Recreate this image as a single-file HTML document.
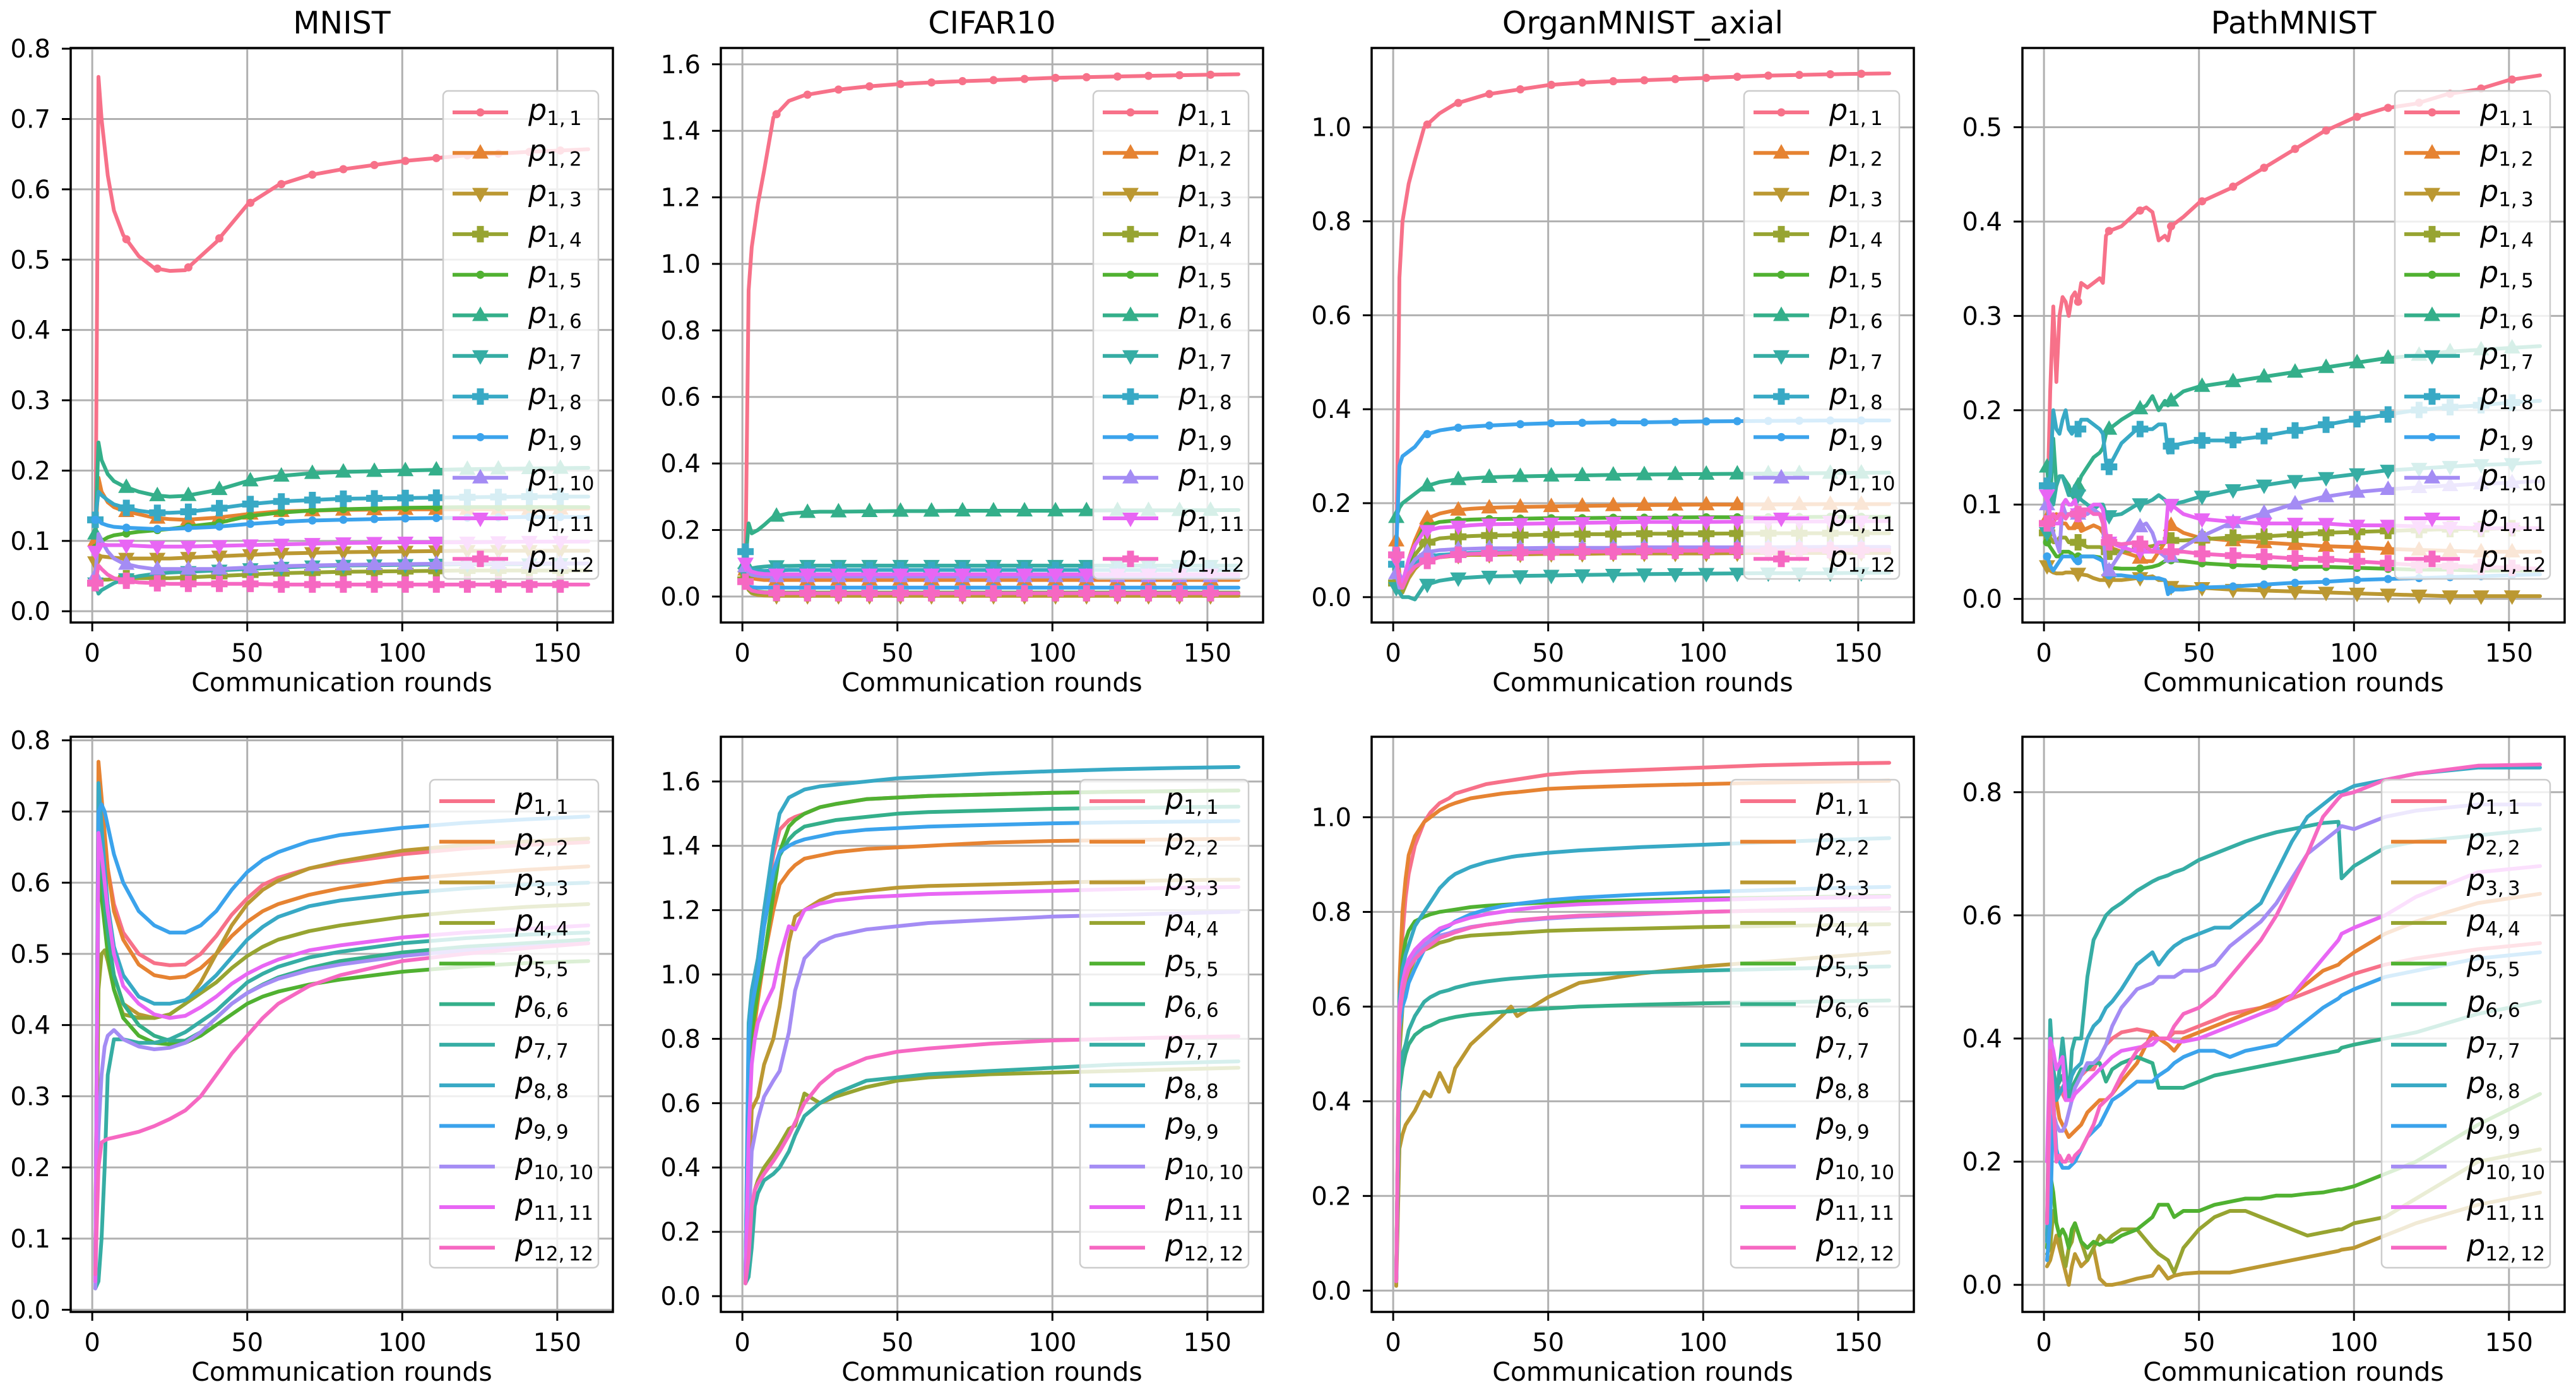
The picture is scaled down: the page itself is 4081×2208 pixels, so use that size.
<!DOCTYPE html>
<html><head><meta charset="utf-8">
<style>
html,body{margin:0;padding:0;background:#fff;}
svg{display:block;font-family:"DejaVu Sans","Liberation Sans",sans-serif;}
</style></head>
<body>
<svg id="fig" xmlns="http://www.w3.org/2000/svg" width="4081" height="2208" viewBox="0 0 4081 2208">
<rect x="0" y="0" width="4081" height="2208" fill="#ffffff"/>
</svg>
<script>
// ---- data ----
const colors = ['#f77189','#e68332','#bb9832','#97a431','#50b131','#34af8a','#36ada4','#38a9c5','#3ba3ec','#a48cf4','#e866f4','#f668c2'];
const xTicks = [0,50,100,150];
const titles = ['MNIST','CIFAR10','OrganMNIST_axial','PathMNIST'];

const X1 = [1,2,3,5,7,10,15,20,25,30,40,50,60,70,80,100,120,140,160];
const mnistTop = [
[0.05,0.76,0.70,0.62,0.57,0.535,0.505,0.488,0.484,0.485,0.525,0.578,0.606,0.62,0.628,0.64,0.648,0.653,0.657],
[0.10,0.19,0.17,0.155,0.148,0.143,0.138,0.133,0.131,0.13,0.133,0.138,0.142,0.143,0.144,0.145,0.145,0.145,0.146],
[0.07,0.08,0.078,0.077,0.076,0.075,0.075,0.075,0.075,0.076,0.078,0.08,0.082,0.083,0.084,0.085,0.086,0.086,0.086],
[0.04,0.045,0.045,0.045,0.046,0.047,0.047,0.047,0.047,0.048,0.05,0.052,0.054,0.055,0.056,0.057,0.058,0.058,0.058],
[0.09,0.1,0.1,0.105,0.108,0.11,0.113,0.115,0.117,0.12,0.125,0.135,0.14,0.143,0.145,0.147,0.148,0.148,0.148],
[0.11,0.24,0.215,0.195,0.185,0.178,0.17,0.165,0.163,0.164,0.172,0.185,0.192,0.196,0.198,0.2,0.202,0.203,0.204],
[0.04,0.025,0.03,0.035,0.04,0.045,0.05,0.053,0.055,0.056,0.058,0.06,0.062,0.064,0.065,0.066,0.067,0.067,0.068],
[0.13,0.17,0.165,0.158,0.152,0.148,0.143,0.14,0.14,0.141,0.146,0.152,0.156,0.158,0.16,0.161,0.162,0.163,0.163],
[0.13,0.13,0.125,0.122,0.12,0.119,0.118,0.117,0.117,0.118,0.12,0.124,0.127,0.129,0.13,0.132,0.133,0.134,0.134],
[0.05,0.11,0.1,0.085,0.075,0.068,0.063,0.06,0.06,0.06,0.06,0.062,0.064,0.065,0.066,0.067,0.068,0.068,0.068],
[0.085,0.095,0.095,0.094,0.094,0.094,0.093,0.092,0.092,0.092,0.093,0.094,0.095,0.096,0.097,0.098,0.098,0.099,0.099],
[0.04,0.065,0.06,0.052,0.047,0.044,0.041,0.04,0.039,0.039,0.039,0.039,0.038,0.038,0.038,0.038,0.038,0.038,0.038]
];
const cifarTop = [
[0.1,0.92,1.05,1.18,1.28,1.44,1.49,1.507,1.515,1.523,1.533,1.54,1.545,1.549,1.552,1.559,1.563,1.567,1.57],
[0.08,0.06,0.055,0.052,0.05,0.05,0.05,0.05,0.05,0.05,0.05,0.05,0.05,0.05,0.05,0.05,0.05,0.05,0.05],
[0.06,0.02,0.01,0.005,0.003,0.002,0.002,0.002,0.002,0.002,0.002,0.002,0.002,0.002,0.002,0.002,0.002,0.002,0.002],
[0.05,0.02,0.012,0.01,0.01,0.01,0.01,0.01,0.01,0.01,0.01,0.01,0.01,0.01,0.01,0.01,0.01,0.01,0.01],
[0.06,0.03,0.02,0.015,0.013,0.012,0.012,0.012,0.012,0.012,0.012,0.012,0.012,0.012,0.012,0.012,0.012,0.012,0.012],
[0.1,0.22,0.19,0.2,0.215,0.24,0.25,0.253,0.255,0.255,0.256,0.257,0.257,0.258,0.258,0.258,0.259,0.259,0.26],
[0.07,0.08,0.085,0.088,0.09,0.092,0.092,0.093,0.093,0.093,0.093,0.093,0.093,0.093,0.093,0.093,0.093,0.093,0.093],
[0.135,0.09,0.08,0.078,0.077,0.078,0.08,0.08,0.08,0.08,0.08,0.08,0.08,0.08,0.08,0.08,0.08,0.08,0.08],
[0.05,0.03,0.028,0.027,0.027,0.027,0.027,0.027,0.027,0.027,0.027,0.027,0.027,0.027,0.027,0.027,0.027,0.027,0.027],
[0.09,0.07,0.065,0.062,0.06,0.06,0.06,0.06,0.06,0.06,0.06,0.06,0.06,0.06,0.06,0.06,0.06,0.06,0.06],
[0.1,0.08,0.075,0.07,0.068,0.067,0.067,0.067,0.067,0.067,0.067,0.067,0.067,0.067,0.067,0.067,0.067,0.067,0.067],
[0.045,0.025,0.018,0.014,0.012,0.011,0.01,0.01,0.01,0.01,0.01,0.01,0.01,0.01,0.01,0.01,0.01,0.01,0.01]
];
const organTop = [
[0.05,0.68,0.8,0.88,0.93,1.0,1.03,1.05,1.06,1.07,1.08,1.09,1.095,1.098,1.1,1.105,1.11,1.113,1.115],
[0.12,0.05,0.03,0.08,0.12,0.165,0.178,0.185,0.188,0.19,0.192,0.193,0.194,0.195,0.196,0.197,0.197,0.198,0.198],
[0.08,0.02,0.01,0.04,0.06,0.08,0.085,0.088,0.09,0.09,0.091,0.092,0.092,0.093,0.093,0.093,0.094,0.094,0.094],
[0.03,0.02,0.01,0.05,0.09,0.115,0.125,0.128,0.13,0.131,0.132,0.133,0.134,0.134,0.135,0.135,0.136,0.136,0.136],
[0.06,0.03,0.02,0.07,0.11,0.15,0.16,0.163,0.165,0.166,0.167,0.168,0.168,0.169,0.169,0.17,0.17,0.171,0.171],
[0.17,0.19,0.2,0.21,0.22,0.235,0.245,0.25,0.253,0.255,0.257,0.258,0.259,0.26,0.261,0.262,0.263,0.264,0.265],
[0.02,0.01,0.0,0.0,-0.005,0.025,0.035,0.04,0.042,0.044,0.045,0.046,0.047,0.048,0.049,0.05,0.051,0.051,0.052],
[0.07,0.03,0.02,0.05,0.07,0.085,0.09,0.092,0.094,0.095,0.096,0.097,0.098,0.099,0.1,0.1,0.101,0.101,0.102],
[0.1,0.28,0.3,0.31,0.32,0.345,0.355,0.36,0.363,0.365,0.368,0.37,0.371,0.372,0.372,0.374,0.375,0.376,0.376],
[0.05,0.02,0.02,0.06,0.08,0.095,0.1,0.102,0.103,0.104,0.104,0.105,0.105,0.105,0.106,0.106,0.106,0.107,0.107],
[0.08,0.04,0.03,0.08,0.11,0.14,0.148,0.15,0.153,0.155,0.156,0.157,0.158,0.159,0.16,0.16,0.161,0.161,0.162],
[0.09,0.03,0.02,0.05,0.065,0.075,0.085,0.09,0.092,0.093,0.095,0.096,0.097,0.097,0.098,0.099,0.099,0.1,0.1]
];
const XP = [1,2,3,4,5,6,7,8,9,10,11,12,14,16,18,19,20,21,25,30,33,35,37,39,40,41,45,50,60,70,80,90,100,110,120,130,140,150,160];
const pathTop = [
[0.08,0.22,0.31,0.23,0.3,0.32,0.315,0.3,0.32,0.325,0.315,0.335,0.33,0.335,0.34,0.335,0.385,0.39,0.395,0.41,0.415,0.41,0.38,0.385,0.38,0.395,0.405,0.42,0.435,0.455,0.475,0.495,0.51,0.52,0.525,0.535,0.54,0.55,0.555],
[0.085,0.09,0.08,0.09,0.085,0.08,0.08,0.075,0.075,0.075,0.08,0.072,0.075,0.078,0.075,0.07,0.06,0.055,0.05,0.045,0.04,0.04,0.05,0.06,0.08,0.078,0.07,0.065,0.062,0.06,0.058,0.056,0.055,0.053,0.052,0.051,0.05,0.05,0.05],
[0.035,0.03,0.028,0.027,0.027,0.027,0.028,0.028,0.028,0.027,0.027,0.026,0.025,0.022,0.02,0.02,0.02,0.02,0.02,0.022,0.023,0.024,0.02,0.02,0.015,0.013,0.013,0.012,0.01,0.009,0.008,0.007,0.006,0.005,0.004,0.003,0.003,0.003,0.003],
[0.07,0.065,0.06,0.06,0.065,0.065,0.065,0.06,0.06,0.06,0.06,0.058,0.055,0.055,0.055,0.054,0.05,0.05,0.05,0.052,0.055,0.056,0.058,0.06,0.062,0.062,0.062,0.063,0.065,0.066,0.068,0.07,0.071,0.072,0.073,0.074,0.074,0.075,0.075],
[0.06,0.055,0.05,0.045,0.045,0.05,0.05,0.05,0.048,0.045,0.045,0.045,0.045,0.045,0.044,0.04,0.035,0.033,0.032,0.032,0.033,0.034,0.036,0.04,0.042,0.041,0.04,0.038,0.036,0.035,0.034,0.034,0.033,0.032,0.031,0.031,0.03,0.03,0.03],
[0.14,0.1,0.17,0.12,0.13,0.13,0.125,0.12,0.11,0.105,0.12,0.13,0.14,0.15,0.155,0.16,0.175,0.18,0.19,0.2,0.205,0.215,0.2,0.21,0.205,0.21,0.22,0.225,0.23,0.235,0.24,0.245,0.25,0.255,0.258,0.262,0.264,0.266,0.268],
[0.07,0.12,0.1,0.12,0.13,0.13,0.12,0.11,0.11,0.12,0.11,0.105,0.1,0.095,0.1,0.1,0.09,0.088,0.09,0.1,0.102,0.105,0.11,0.105,0.1,0.1,0.103,0.108,0.115,0.12,0.125,0.128,0.132,0.136,0.138,0.14,0.142,0.143,0.145],
[0.12,0.13,0.2,0.18,0.175,0.19,0.2,0.18,0.175,0.18,0.18,0.19,0.19,0.185,0.18,0.175,0.145,0.14,0.165,0.18,0.18,0.18,0.185,0.185,0.155,0.162,0.165,0.168,0.168,0.172,0.178,0.184,0.19,0.195,0.2,0.203,0.205,0.208,0.21],
[0.045,0.035,0.03,0.035,0.04,0.045,0.045,0.045,0.045,0.04,0.04,0.045,0.045,0.045,0.042,0.04,0.025,0.025,0.025,0.023,0.022,0.022,0.022,0.02,0.005,0.01,0.01,0.012,0.013,0.015,0.017,0.018,0.02,0.021,0.022,0.023,0.024,0.025,0.026],
[0.1,0.08,0.07,0.06,0.05,0.1,0.09,0.09,0.09,0.095,0.09,0.09,0.09,0.095,0.09,0.08,0.03,0.03,0.05,0.075,0.08,0.07,0.05,0.045,0.04,0.045,0.055,0.065,0.08,0.09,0.1,0.108,0.113,0.116,0.118,0.12,0.122,0.123,0.125],
[0.11,0.09,0.08,0.08,0.08,0.1,0.105,0.1,0.1,0.105,0.09,0.09,0.095,0.1,0.1,0.095,0.07,0.06,0.055,0.05,0.05,0.05,0.06,0.06,0.1,0.1,0.09,0.085,0.082,0.08,0.08,0.08,0.078,0.078,0.077,0.076,0.075,0.075,0.075],
[0.08,0.085,0.09,0.085,0.09,0.09,0.085,0.09,0.09,0.088,0.09,0.095,0.095,0.09,0.09,0.08,0.06,0.06,0.058,0.06,0.055,0.05,0.05,0.05,0.05,0.05,0.05,0.048,0.046,0.045,0.043,0.042,0.04,0.038,0.036,0.035,0.034,0.033,0.032]
];
const X5 = [1,2,3,4,5,7,10,15,20,25,30,35,40,45,50,55,60,70,80,100,120,140,160];
const mnistDiag = [
[0.05,0.72,0.70,0.66,0.62,0.57,0.53,0.5,0.487,0.484,0.485,0.5,0.525,0.555,0.578,0.597,0.607,0.62,0.628,0.64,0.648,0.653,0.657],
[0.04,0.77,0.72,0.67,0.62,0.56,0.52,0.485,0.47,0.466,0.468,0.48,0.5,0.525,0.545,0.56,0.57,0.583,0.592,0.605,0.612,0.618,0.623],
[0.05,0.7,0.62,0.56,0.52,0.47,0.43,0.415,0.41,0.415,0.43,0.46,0.5,0.54,0.57,0.59,0.603,0.62,0.63,0.645,0.653,0.658,0.662],
[0.04,0.45,0.5,0.505,0.49,0.45,0.415,0.41,0.41,0.415,0.43,0.445,0.46,0.48,0.497,0.51,0.52,0.532,0.54,0.552,0.56,0.566,0.57],
[0.04,0.62,0.58,0.54,0.5,0.45,0.41,0.385,0.375,0.373,0.375,0.385,0.4,0.415,0.43,0.44,0.447,0.457,0.464,0.475,0.482,0.487,0.49],
[0.04,0.7,0.62,0.57,0.53,0.47,0.43,0.4,0.385,0.378,0.378,0.39,0.41,0.43,0.445,0.457,0.467,0.48,0.49,0.502,0.51,0.515,0.52],
[0.03,0.04,0.1,0.2,0.33,0.38,0.38,0.375,0.375,0.38,0.39,0.405,0.42,0.44,0.46,0.472,0.482,0.495,0.503,0.515,0.522,0.527,0.53],
[0.04,0.74,0.68,0.62,0.57,0.51,0.47,0.44,0.43,0.43,0.435,0.45,0.47,0.495,0.52,0.538,0.552,0.567,0.575,0.585,0.592,0.597,0.6],
[0.05,0.7,0.71,0.7,0.68,0.64,0.6,0.56,0.54,0.53,0.53,0.54,0.56,0.59,0.615,0.632,0.643,0.658,0.667,0.677,0.684,0.689,0.693],
[0.03,0.25,0.33,0.37,0.385,0.393,0.38,0.37,0.366,0.368,0.375,0.39,0.41,0.43,0.445,0.456,0.465,0.477,0.485,0.497,0.505,0.51,0.515],
[0.04,0.67,0.64,0.6,0.56,0.5,0.455,0.43,0.415,0.41,0.413,0.425,0.44,0.458,0.472,0.483,0.492,0.505,0.512,0.523,0.53,0.535,0.54],
[0.05,0.2,0.235,0.238,0.24,0.242,0.245,0.25,0.258,0.268,0.28,0.3,0.33,0.36,0.385,0.41,0.43,0.455,0.47,0.49,0.5,0.508,0.515]
];
const X6 = [1,2,3,4,5,7,10,12,15,17,20,25,30,40,50,60,80,100,120,140,160];
const cifarDiag = [
[0.05,0.7,0.85,1.0,1.05,1.2,1.37,1.45,1.48,1.49,1.5,1.52,1.53,1.545,1.55,1.555,1.56,1.565,1.568,1.57,1.572],
[0.04,0.5,0.75,0.85,0.92,1.05,1.2,1.28,1.32,1.34,1.36,1.37,1.38,1.39,1.395,1.4,1.41,1.415,1.418,1.42,1.422],
[0.04,0.3,0.58,0.6,0.62,0.72,0.8,0.9,1.1,1.18,1.2,1.23,1.25,1.26,1.27,1.275,1.28,1.285,1.29,1.293,1.295],
[0.04,0.12,0.25,0.33,0.36,0.4,0.44,0.47,0.52,0.53,0.63,0.6,0.62,0.65,0.67,0.68,0.69,0.695,0.7,0.705,0.71],
[0.05,0.7,0.82,0.88,0.95,1.05,1.25,1.38,1.46,1.48,1.5,1.52,1.53,1.545,1.55,1.555,1.56,1.565,1.568,1.57,1.572],
[0.05,0.75,0.88,0.95,1.0,1.15,1.3,1.37,1.42,1.44,1.46,1.47,1.48,1.49,1.5,1.505,1.51,1.515,1.518,1.52,1.522],
[0.04,0.06,0.15,0.28,0.32,0.36,0.38,0.4,0.45,0.5,0.56,0.6,0.63,0.67,0.68,0.69,0.7,0.71,0.72,0.725,0.73],
[0.05,0.85,0.95,1.0,1.05,1.2,1.4,1.5,1.55,1.56,1.575,1.585,1.59,1.6,1.61,1.615,1.625,1.632,1.638,1.642,1.645],
[0.05,0.8,0.9,0.95,1.0,1.15,1.32,1.38,1.4,1.41,1.42,1.43,1.44,1.45,1.455,1.46,1.465,1.47,1.473,1.475,1.477],
[0.04,0.2,0.45,0.5,0.55,0.62,0.67,0.7,0.82,0.95,1.05,1.1,1.12,1.14,1.15,1.16,1.17,1.18,1.185,1.19,1.195],
[0.04,0.5,0.72,0.8,0.85,0.9,0.96,1.05,1.15,1.14,1.2,1.22,1.23,1.24,1.245,1.25,1.255,1.26,1.265,1.27,1.272],
[0.04,0.12,0.28,0.33,0.35,0.38,0.42,0.45,0.5,0.54,0.6,0.66,0.7,0.74,0.76,0.77,0.785,0.795,0.8,0.805,0.808]
];
const X7 = [1,2,3,4,5,7,10,12,15,18,20,25,30,35,38,40,50,60,80,100,120,140,160];
const organDiag = [
[0.02,0.6,0.75,0.83,0.88,0.94,0.99,1.01,1.03,1.04,1.05,1.06,1.07,1.075,1.078,1.08,1.09,1.095,1.1,1.105,1.11,1.113,1.115],
[0.02,0.65,0.8,0.87,0.92,0.96,0.99,1.0,1.015,1.025,1.03,1.04,1.045,1.05,1.052,1.053,1.06,1.063,1.067,1.07,1.073,1.075,1.077],
[0.01,0.3,0.33,0.35,0.36,0.38,0.42,0.41,0.46,0.42,0.47,0.52,0.55,0.58,0.6,0.58,0.62,0.65,0.67,0.685,0.695,0.705,0.715],
[0.02,0.5,0.6,0.65,0.67,0.7,0.72,0.725,0.735,0.74,0.745,0.75,0.752,0.754,0.755,0.756,0.76,0.762,0.765,0.768,0.77,0.772,0.774],
[0.02,0.6,0.7,0.74,0.76,0.78,0.79,0.795,0.8,0.803,0.805,0.81,0.813,0.815,0.816,0.817,0.82,0.822,0.825,0.828,0.83,0.832,0.834],
[0.02,0.42,0.47,0.5,0.52,0.54,0.555,0.56,0.57,0.575,0.578,0.583,0.586,0.589,0.59,0.592,0.596,0.6,0.604,0.607,0.609,0.611,0.613],
[0.02,0.45,0.5,0.52,0.55,0.58,0.61,0.62,0.63,0.635,0.64,0.648,0.653,0.657,0.659,0.66,0.665,0.668,0.672,0.676,0.679,0.682,0.685],
[0.02,0.62,0.68,0.71,0.73,0.77,0.8,0.82,0.85,0.87,0.88,0.895,0.905,0.912,0.916,0.918,0.925,0.93,0.937,0.942,0.947,0.952,0.956],
[0.02,0.55,0.6,0.62,0.65,0.68,0.72,0.74,0.76,0.77,0.78,0.795,0.805,0.812,0.815,0.817,0.825,0.83,0.837,0.842,0.846,0.85,0.853],
[0.02,0.6,0.65,0.67,0.69,0.71,0.73,0.74,0.75,0.755,0.76,0.768,0.773,0.777,0.779,0.781,0.786,0.79,0.795,0.8,0.803,0.806,0.808],
[0.02,0.6,0.65,0.68,0.7,0.72,0.74,0.75,0.765,0.772,0.778,0.788,0.795,0.8,0.803,0.805,0.812,0.816,0.821,0.825,0.828,0.83,0.832],
[0.02,0.58,0.63,0.66,0.68,0.7,0.72,0.73,0.745,0.752,0.757,0.767,0.773,0.777,0.78,0.782,0.788,0.792,0.796,0.8,0.803,0.805,0.807]
];
const X8 = [1,2,3,4,5,6,7,8,9,10,12,14,16,18,20,22,25,30,35,37,40,42,45,50,55,60,65,70,75,80,85,90,95,96,100,110,120,140,160];
const pathDiag = [
[0.1,0.3,0.35,0.3,0.32,0.31,0.3,0.31,0.32,0.33,0.34,0.35,0.35,0.37,0.39,0.4,0.41,0.415,0.41,0.4,0.4,0.41,0.41,0.42,0.43,0.44,0.445,0.45,0.455,0.465,0.475,0.485,0.495,0.497,0.505,0.52,0.53,0.545,0.555],
[0.07,0.3,0.32,0.3,0.27,0.26,0.25,0.24,0.245,0.25,0.26,0.28,0.29,0.3,0.3,0.31,0.33,0.36,0.41,0.4,0.39,0.38,0.4,0.41,0.42,0.43,0.44,0.45,0.46,0.47,0.49,0.51,0.52,0.525,0.54,0.57,0.59,0.62,0.635],
[0.03,0.04,0.06,0.08,0.06,0.04,0.02,0.0,0.03,0.05,0.03,0.04,0.06,0.01,0.0,0.0,0.003,0.01,0.015,0.03,0.01,0.015,0.018,0.02,0.02,0.02,0.025,0.03,0.035,0.04,0.045,0.05,0.055,0.057,0.06,0.08,0.1,0.13,0.15],
[0.05,0.06,0.12,0.1,0.08,0.05,0.03,0.06,0.07,0.1,0.07,0.04,0.06,0.08,0.07,0.08,0.09,0.09,0.06,0.05,0.04,0.02,0.06,0.09,0.11,0.12,0.12,0.11,0.1,0.09,0.08,0.085,0.09,0.09,0.1,0.11,0.14,0.2,0.22],
[0.06,0.18,0.15,0.1,0.08,0.09,0.08,0.06,0.09,0.1,0.07,0.06,0.07,0.065,0.07,0.07,0.08,0.09,0.11,0.13,0.13,0.11,0.12,0.12,0.13,0.135,0.14,0.14,0.145,0.145,0.148,0.15,0.155,0.155,0.16,0.18,0.2,0.26,0.31],
[0.08,0.3,0.35,0.32,0.33,0.34,0.32,0.3,0.32,0.33,0.35,0.35,0.36,0.36,0.33,0.35,0.36,0.37,0.36,0.32,0.32,0.32,0.32,0.33,0.34,0.345,0.35,0.355,0.36,0.365,0.37,0.375,0.38,0.385,0.39,0.4,0.41,0.44,0.46],
[0.1,0.43,0.35,0.3,0.35,0.4,0.35,0.3,0.38,0.4,0.4,0.5,0.56,0.58,0.6,0.61,0.62,0.64,0.655,0.66,0.665,0.67,0.675,0.69,0.7,0.71,0.72,0.728,0.735,0.74,0.745,0.75,0.752,0.66,0.68,0.71,0.72,0.73,0.74],
[0.07,0.38,0.33,0.3,0.31,0.32,0.33,0.32,0.34,0.35,0.36,0.4,0.42,0.43,0.45,0.46,0.48,0.52,0.54,0.52,0.54,0.55,0.56,0.57,0.58,0.58,0.6,0.62,0.67,0.72,0.76,0.78,0.8,0.8,0.81,0.82,0.83,0.84,0.84],
[0.04,0.1,0.3,0.22,0.2,0.19,0.19,0.19,0.195,0.2,0.22,0.24,0.25,0.26,0.28,0.3,0.31,0.33,0.33,0.34,0.35,0.36,0.37,0.38,0.38,0.37,0.38,0.385,0.39,0.41,0.43,0.45,0.465,0.47,0.48,0.5,0.51,0.53,0.54],
[0.1,0.3,0.28,0.26,0.25,0.25,0.26,0.28,0.3,0.32,0.34,0.36,0.36,0.37,0.39,0.42,0.45,0.48,0.49,0.5,0.5,0.5,0.51,0.51,0.52,0.55,0.57,0.59,0.62,0.66,0.7,0.72,0.74,0.745,0.74,0.76,0.77,0.78,0.78],
[0.2,0.4,0.38,0.35,0.36,0.37,0.3,0.3,0.3,0.31,0.32,0.33,0.34,0.35,0.36,0.37,0.38,0.385,0.39,0.4,0.4,0.395,0.395,0.4,0.41,0.42,0.43,0.44,0.45,0.47,0.5,0.53,0.56,0.57,0.58,0.6,0.63,0.67,0.68],
[0.1,0.38,0.3,0.2,0.21,0.2,0.2,0.21,0.2,0.21,0.22,0.24,0.26,0.29,0.3,0.31,0.34,0.38,0.4,0.4,0.4,0.42,0.44,0.45,0.47,0.5,0.53,0.56,0.6,0.65,0.7,0.76,0.79,0.795,0.8,0.82,0.83,0.843,0.845]
];
const yTicksList = [
[0,0.1,0.2,0.3,0.4,0.5,0.6,0.7,0.8],[0,0.2,0.4,0.6,0.8,1.0,1.2,1.4,1.6],[0,0.2,0.4,0.6,0.8,1.0],[0,0.1,0.2,0.3,0.4,0.5],
[0,0.1,0.2,0.3,0.4,0.5,0.6,0.7,0.8],[0,0.2,0.4,0.6,0.8,1.0,1.2,1.4,1.6],[0,0.2,0.4,0.6,0.8,1.0],[0,0.2,0.4,0.6,0.8]
];
const yRanges = [[-0.016,0.801],[-0.078,1.649],[-0.054,1.169],[-0.025,0.584],[-0.003,0.805],[-0.049,1.739],[-0.045,1.170],[-0.044,0.890]];

// ---- rendering ----
const NS = 'http://www.w3.org/2000/svg';
const svg = document.getElementById('fig');
const LW = 6;
function mk(tag, attrs, parent){ const e=document.createElementNS(NS,tag); for(const k in attrs) e.setAttribute(k,attrs[k]); (parent||svg).appendChild(e); return e; }
function interp(xs, ys, x){ for(let i=0;i<xs.length-1;i++){ if(x>=xs[i]&&x<=xs[i+1]){ const t=(x-xs[i])/(xs[i+1]-xs[i]); return ys[i]+t*(ys[i+1]-ys[i]); } } return ys[ys.length-1]; }
function marker(g, type, cx, cy, col){
  let m;
  if(type===0){ m=mk('circle',{cx:cx,cy:cy,r:6.5,fill:col},g); }
  else if(type===1){ m=mk('polygon',{points:`${cx},${cy-14} ${cx-13},${cy+9} ${cx+13},${cy+9}`,fill:col},g); }
  else if(type===2){ m=mk('polygon',{points:`${cx},${cy+14} ${cx-13},${cy-9} ${cx+13},${cy-9}`,fill:col},g); }
  else { const a=5.5,b=13; m=mk('polygon',{points:`${cx-a},${cy-b} ${cx+a},${cy-b} ${cx+a},${cy-a} ${cx+b},${cy-a} ${cx+b},${cy+a} ${cx+a},${cy+a} ${cx+a},${cy+b} ${cx-a},${cy+b} ${cx-a},${cy+a} ${cx-b},${cy+a} ${cx-b},${cy-a} ${cx-a},${cy-a}`,fill:col},g); }
  
  
}
const panels = [
 {xs:X1,data:mnistTop,top:true},{xs:X1,data:cifarTop,top:true},{xs:X1,data:organTop,top:true},{xs:XP,data:pathTop,top:true},
 {xs:X5,data:mnistDiag,top:false},{xs:X6,data:cifarDiag,top:false},{xs:X7,data:organDiag,top:false},{xs:X8,data:pathDiag,top:false}
];
const lefts=[112,1142,2173,3204], W=859;
panels.forEach((p,pi)=>{
  const col=pi%4, row=Math.floor(pi/4);
  const L=lefts[col], T=row===0?76:1167, B=row===0?986:2078, H=B-T;
  const [ymin,ymax]=yRanges[pi];
  const xmin=-6.95, xmax=167.95;
  const sx=v=>L+(v-xmin)/(xmax-xmin)*W;
  const sy=v=>B-(v-ymin)/(ymax-ymin)*H;
  const g=mk('g',{});
  
  
  const cid='clip'+pi;
  const cp=mk('clipPath',{id:cid},g); mk('rect',{x:L,y:T,width:W,height:H},cp);
  xTicks.forEach(t=>{ const l=mk('line',{x1:sx(t),x2:sx(t),y1:T,y2:B,stroke:'#b0b0b0','stroke-width':3},g);  });
  yTicksList[pi].forEach(t=>{ const l=mk('line',{x1:L,x2:L+W,y1:sy(t),y2:sy(t),stroke:'#b0b0b0','stroke-width':3},g);  });
  const sg=mk('g',{'clip-path':`url(#${cid})`},g);
  p.data.forEach((ys,si)=>{
    const n=Math.min(ys.length,p.xs.length);
    let d='';
    for(let i=0;i<n;i++){ d+=(i?'L':'M')+sx(p.xs[i]).toFixed(1)+','+sy(ys[i]).toFixed(1); }
    const path=mk('path',{d:d,fill:'none',stroke:colors[si],'stroke-width':LW,'stroke-linejoin':'round','stroke-linecap':'round'},sg);
    
    
    if(p.top){
      for(let x=1;x<=160;x+=10){ marker(sg, si%4, sx(x), sy(interp(p.xs.slice(0,n),ys.slice(0,n),x)), colors[si]); }
    }
  });
  xTicks.forEach(t=>{
    mk('line',{x1:sx(t),x2:sx(t),y1:B,y2:B+14,stroke:'#000','stroke-width':3},g);
    const tx=mk('text',{x:sx(t),y:B+62,'font-size':40,'text-anchor':'middle',fill:'#000'},g); tx.textContent=t;
     
  });
  yTicksList[pi].forEach(t=>{
    mk('line',{x1:L-14,x2:L,y1:sy(t),y2:sy(t),stroke:'#000','stroke-width':3},g);
    const tx=mk('text',{x:L-32,y:sy(t)+14,'font-size':40,'text-anchor':'end',fill:'#000'},g); tx.textContent=t.toFixed(1);
     
  });
  const xl=mk('text',{x:L+W/2,y:B+109,'font-size':41,'text-anchor':'middle',fill:'#000'},g); xl.textContent='Communication rounds';
   
  if(p.top){ const tt=mk('text',{x:L+W/2,y:53,'font-size':49,'text-anchor':'middle',fill:'#000'},g); tt.textContent=titles[col];
      }
  const lw=p.top?246:267, lh=773, lx=L+W-23-lw, ly=T+68;
  const lg=mk('g',{},g);
   
  mk('rect',{x:lx,y:ly,width:lw,height:lh,rx:8,fill:'#ffffff','fill-opacity':0.8,stroke:'#cccccc','stroke-width':2.5},lg);
  for(let k=0;k<12;k++){
    const ey=ly+34+k*64.3;
    const eg=mk('g',{},lg);
     
    mk('line',{x1:lx+15,x2:lx+103,y1:ey,y2:ey,stroke:colors[k],'stroke-width':LW},eg);
    if(p.top) marker(eg,k%4,lx+59,ey,colors[k]);
    const t=mk('text',{x:lx+135,y:ey+12,'font-size':46,fill:'#000'},eg);
    const ps=mk('tspan',{'font-style':'italic'},t); ps.textContent='p';
    const sub=mk('tspan',{'font-size':31,dy:8},t); sub.textContent=p.top?('1,\u2009'+(k+1)):((k+1)+',\u2009'+(k+1));
  }
  const sp=mk('rect',{x:L,y:T,width:W,height:H,fill:'none',stroke:'#000','stroke-width':3.5},g);
   
});
</script>
</body></html>
